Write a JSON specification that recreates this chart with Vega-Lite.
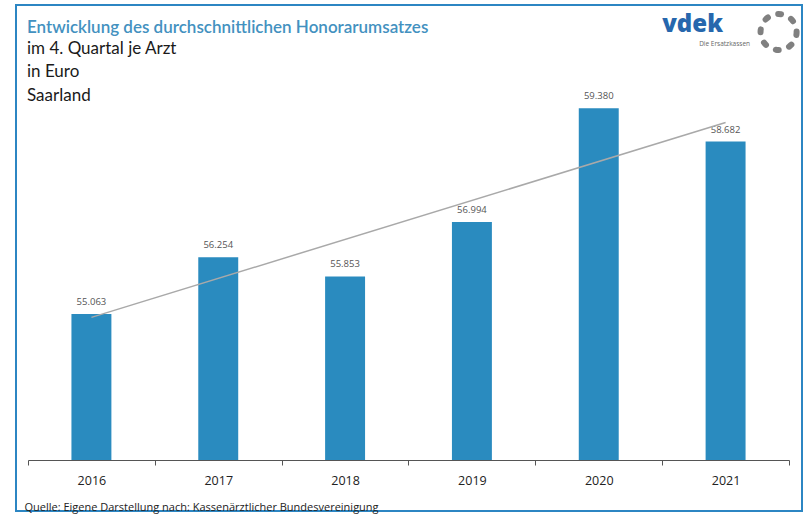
{
  "$schema": "https://vega.github.io/schema/vega-lite/v6.json",
  "width": 786,
  "height": 506,
  "autosize": {"type": "none"},
  "padding": {"left": 16, "top": 5, "right": 1, "bottom": 3},
  "background": "white",
  "title": {
    "text": "Entwicklung des durchschnittlichen Honorarumsatzes",
    "subtitle": ["im 4. Quartal je Arzt", "in Euro", "Saarland"],
    "anchor": "start",
    "frame": "group",
    "orient": "top",
    "offset": -103,
    "dx": 11,
    "font": "Lato",
    "fontSize": 17,
    "fontWeight": 600,
    "color": "#4391c0",
    "subtitleFont": "Lato",
    "subtitleFontSize": 17,
    "subtitleColor": "#1a1a1a",
    "subtitleLineHeight": 23.5,
    "subtitlePadding": 4
  },
  "data": {
    "values": [
      {"year": 2016, "value": 55063},
      {"year": 2017, "value": 56254},
      {"year": 2018, "value": 55853},
      {"year": 2019, "value": 56994},
      {"year": 2020, "value": 59380},
      {"year": 2021, "value": 58682}
    ]
  },
  "encoding": {
    "x": {
      "field": "year",
      "type": "ordinal",
      "scale": {"range": [12, 773], "paddingInner": 0, "paddingOuter": 0},
      "axis": {
        "title": "Quelle: Eigene Darstellung nach: Kassenärztlicher Bundesvereinigung",
        "titleAnchor": "start",
        "titleAlign": "left",
        "titleBaseline": "alphabetic",
        "titleX": 8,
        "titleY": 50,
        "titleFont": "Open Sans",
        "titleFontSize": 11,
        "titleFontWeight": "normal",
        "titleColor": "#222222",
        "offset": -51,
        "labelAngle": 0,
        "labelFont": "Open Sans",
        "labelFontSize": 12.5,
        "labelColor": "#222222",
        "labelPadding": 9,
        "tickBand": "extent",
        "tickSize": 5,
        "tickColor": "#555555",
        "domainColor": "#555555",
        "grid": false
      }
    },
    "y": {
      "field": "value",
      "type": "quantitative",
      "scale": {"domain": [50930, 61549], "zero": false, "nice": false},
      "axis": null
    }
  },
  "layer": [
    {
      "mark": {"type": "bar", "color": "#2a8bbf", "width": {"band": 0.315}},
      "encoding": {"y2": {"datum": 52000}}
    },
    {
      "mark": {"type": "text", "baseline": "alphabetic", "dy": -9, "font": "Open Sans", "fontSize": 9.5, "color": "#555555"},
      "encoding": {"text": {"field": "value", "type": "quantitative", "format": ",.0f"}}
    },
    {
      "transform": [{"regression": "value", "on": "year"}],
      "mark": {"type": "line", "color": "#a9a9a9", "strokeWidth": 1.5},
      "encoding": {}
    },
    {
      "transform": [{"filter": "datum.year == 2021"}],
      "mark": {"type": "text", "text": "vdek", "font": "Open Sans", "fontSize": 24, "fontWeight": 800, "color": "#2667ad", "baseline": "alphabetic", "align": "center", "dx": -33},
      "encoding": {"y": {"datum": 60982, "type": "quantitative"}}
    },
    {
      "transform": [{"filter": "datum.year == 2021"}],
      "mark": {"type": "text", "text": "Die Ersatzkassen", "font": "Open Sans", "fontSize": 6.5, "color": "#666666", "baseline": "alphabetic", "align": "center", "dx": -1},
      "encoding": {"y": {"datum": 60689, "type": "quantitative"}}
    },
    {
      "transform": [{"filter": "datum.year == 2021"}],
      "mark": {"type": "point", "shape": "circle", "filled": false, "size": 1300, "stroke": "#808080", "strokeWidth": 6, "strokeCap": "round", "strokeDash": [3, 11], "opacity": 1, "xOffset": 53},
      "encoding": {"y": {"datum": 60982, "type": "quantitative"}}
    }
  ],
  "config": {
    "locale": {"number": {"decimal": ",", "thousands": ".", "grouping": [3], "currency": ["", " €"]}},
    "view": {"stroke": "#2c86c3", "strokeWidth": 2}
  }
}
